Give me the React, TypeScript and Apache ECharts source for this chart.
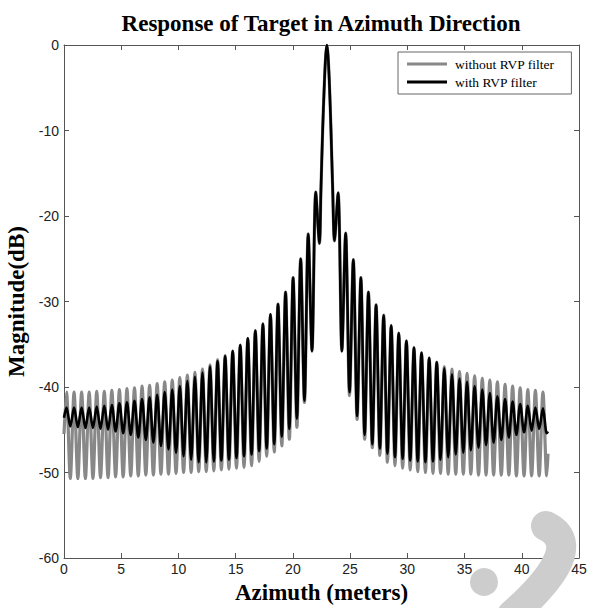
import React, { useEffect, useRef } from "react";
import * as echarts from "echarts";

// Azimuth positions (m) of the lobe peaks and nulls of the point-target response.
const azimuth = [
  0.0, 0.22, 0.55, 0.88, 1.21, 1.54, 1.87, 2.2, 2.53, 2.86, 3.19, 3.52, 3.85, 4.18, 4.51, 4.84, 5.17,
  5.5, 5.83, 6.16, 6.49, 6.82, 7.15, 7.48, 7.81, 8.14, 8.47, 8.8, 9.13, 9.46, 9.79, 10.12, 10.45,
  10.78, 11.11, 11.44, 11.77, 12.1, 12.43, 12.76, 13.09, 13.42, 13.75, 14.08, 14.41, 14.74, 15.07,
  15.4, 15.73, 16.06, 16.39, 16.72, 17.05, 17.38, 17.71, 18.04, 18.37, 18.7, 19.03, 19.36, 19.69,
  20.02, 20.35, 20.68, 21.01, 21.34, 21.67, 22.0, 22.32,
  22.45, 22.6, 22.75, 22.87, 22.97, 23.07, 23.19, 23.33, 23.48, 23.63,
  23.95, 24.28, 24.61, 24.95, 25.28, 25.61, 25.94, 26.27, 26.6, 26.94, 27.27, 27.6, 27.93, 28.26,
  28.59, 28.92, 29.25, 29.59, 29.92, 30.25, 30.58, 30.91, 31.24, 31.58, 31.91, 32.24, 32.57, 32.9,
  33.23, 33.57, 33.9, 34.23, 34.56, 34.89, 35.22, 35.55, 35.88, 36.22, 36.55, 36.88, 37.21, 37.54,
  37.87, 38.21, 38.54, 38.87, 39.2, 39.53, 39.86, 40.2, 40.53, 40.86, 41.19, 41.52, 41.85, 42.18,
  42.29,
];

// Magnitude (dB) without the RVP filter
const withoutRvp = [
  -45.5, -40.6, -50.7, -40.6, -50.7, -40.6, -50.7, -40.6, -50.7, -40.5, -50.6, -40.5, -50.6, -40.4,
  -50.5, -40.3, -50.5, -40.2, -50.4, -40.1, -50.4, -39.9, -50.3, -39.8, -50.3, -39.6, -50.2, -39.4,
  -50.2, -39.2, -50.1, -38.9, -50.0, -38.6, -50.0, -38.3, -49.9, -37.9, -49.9, -37.4, -49.8, -36.8,
  -49.7, -36.3, -49.6, -35.8, -49.5, -35.1, -49.4, -34.3, -49.2, -33.4, -48.7, -32.6, -48.1, -31.5,
  -47.6, -30.3, -46.9, -28.9, -46.1, -27.2, -44.7, -25.0, -41.8, -22.1, -35.8, -17.2, -23.2,
  -17, -10, -4.5, -1.2, 0, -1.2, -4.5, -10, -17, -22.9,
  -17.3, -35.8, -22.0, -41.0, -25.1, -43.8, -27.2, -46.1, -28.9, -47.1, -30.4, -48.0, -31.6, -48.8,
  -32.8, -49.2, -33.7, -49.5, -34.6, -49.7, -35.4, -49.9, -36.0, -50.0, -36.6, -50.1, -37.1, -50.1,
  -37.6, -50.2, -37.9, -50.2, -38.2, -50.2, -38.4, -50.2, -38.7, -50.3, -39.0, -50.3, -39.2, -50.3,
  -39.4, -50.3, -39.7, -50.3, -39.9, -50.4, -40.1, -50.4, -40.3, -50.4, -40.4, -50.4, -40.6, -50.4,
  -47.8,
];

// Magnitude (dB) with the RVP filter
const withRvp = [
  -43.6, -42.4, -44.6, -42.4, -44.7, -42.4, -44.8, -42.4, -44.8, -42.3, -44.9, -42.2, -45.0, -42.1,
  -45.2, -41.9, -45.4, -41.8, -45.6, -41.6, -45.9, -41.4, -46.2, -41.2, -46.5, -40.9, -46.9, -40.6,
  -47.3, -40.3, -47.7, -39.9, -48.1, -39.3, -48.5, -38.8, -48.8, -38.3, -48.8, -37.6, -48.7, -37.0,
  -48.6, -36.4, -48.5, -35.8, -48.3, -35.1, -48.1, -34.3, -47.9, -33.4, -47.5, -32.6, -47.2, -31.5,
  -46.7, -30.3, -45.8, -28.9, -44.9, -27.2, -43.7, -25.0, -41.6, -22.1, -35.8, -17.2, -23.2,
  -17, -10, -4.5, -1.2, 0, -1.2, -4.5, -10, -17, -22.9,
  -17.3, -35.8, -22.0, -40.6, -25.1, -43.4, -27.2, -45.6, -28.9, -46.7, -30.4, -47.2, -31.6, -47.8,
  -32.8, -48.2, -33.7, -48.4, -34.6, -48.6, -35.4, -48.7, -36.0, -48.8, -36.6, -48.7, -37.1, -48.5,
  -37.8, -48.2, -38.5, -47.9, -39.0, -47.7, -39.4, -47.4, -39.9, -47.1, -40.3, -46.8, -40.7, -46.5,
  -41.1, -46.2, -41.4, -45.9, -41.7, -45.6, -42.0, -45.3, -42.2, -45.1, -42.4, -44.9, -42.5, -45.4,
  -45.2,
];

const seriesNames = ["without RVP filter", "with RVP filter"];

const SERIF = '"Liberation Serif", "Times New Roman", serif';
const SANS = '"Liberation Sans", Arial, sans-serif';
const AXIS_COLOR = "#555";
const GRAY = "#888";

export default function App() {
  const ref = useRef<HTMLDivElement>(null);

  useEffect(() => {
    if (!ref.current) return;
    const chart = echarts.init(ref.current, undefined, { renderer: "svg" });

    const boxAxis = {
      axisLine: { show: true, onZero: false, lineStyle: { color: AXIS_COLOR, width: 1 } },
      axisTick: { show: true, inside: true, length: 5, lineStyle: { color: AXIS_COLOR } },
      splitLine: { show: false },
    };

    chart.setOption({
      animation: false,
      backgroundColor: "#fff",
      title: {
        text: "Response of Target in Azimuth Direction",
        left: 316,
        top: 7,
        textAlign: "center",
        textStyle: { fontFamily: SERIF, fontWeight: "bold", fontSize: 23, color: "#000" },
      },
      grid: { left: 64, right: 11, top: 45, bottom: 50, containLabel: false, outerBoundsMode: "none" },
      legend: {
        orient: "vertical",
        left: 398,
        top: 52,
        itemWidth: 40,
        itemHeight: 3,
        itemGap: 4,
        padding: [5, 17, 5, 9],
        borderColor: "#666",
        borderWidth: 1,
        backgroundColor: "#fff",
        data: [
          { name: seriesNames[0], icon: "rect", itemStyle: { color: GRAY } },
          { name: seriesNames[1], icon: "rect", itemStyle: { color: "#000" } },
        ],
        textStyle: { fontFamily: SERIF, fontSize: 13.5, color: "#000", padding: [0, 0, 0, 3] },
      },
      xAxis: [
        {
          type: "value",
          position: "bottom",
          min: 0,
          max: 45,
          interval: 5,
          ...boxAxis,
          axisLabel: { fontFamily: SANS, fontSize: 14, color: "#222", margin: 4 },
          name: "Azimuth (meters)",
          nameLocation: "middle",
          nameGap: 21,
          nameTextStyle: { fontFamily: SERIF, fontWeight: "bold", fontSize: 23, color: "#000" },
        },
        {
          type: "value",
          position: "top",
          min: 0,
          max: 45,
          interval: 5,
          ...boxAxis,
          axisLabel: { show: false },
        },
      ],
      yAxis: [
        {
          type: "value",
          position: "left",
          min: -60,
          max: 0,
          interval: 10,
          ...boxAxis,
          axisLabel: { fontFamily: SANS, fontSize: 14, color: "#222", margin: 5 },
          name: "Magnitude(dB)",
          nameLocation: "middle",
          nameGap: 26,
          nameRotate: 90,
          nameTextStyle: { fontFamily: SERIF, fontWeight: "bold", fontSize: 23, color: "#000" },
        },
        {
          type: "value",
          position: "right",
          min: -60,
          max: 0,
          interval: 10,
          ...boxAxis,
          axisLabel: { show: false },
        },
      ],
      series: [
        {
          name: seriesNames[0],
          type: "line",
          symbol: "none",
          smooth: 0.3,
          data: azimuth.map((x, i) => [x, withoutRvp[i]]),
          lineStyle: { color: GRAY, width: 3.2 },
          itemStyle: { color: GRAY },
          z: 2,
        },
        {
          name: seriesNames[1],
          type: "line",
          symbol: "none",
          smooth: 0.3,
          data: azimuth.map((x, i) => [x, withRvp[i]]),
          lineStyle: { color: "#000", width: 2.6 },
          itemStyle: { color: "#000" },
          z: 3,
        },
      ],
      graphic: [
        {
          type: "circle",
          z: 100,
          shape: { cx: 484, cy: 582, r: 14 },
          style: { fill: "#cdcdcd" },
        },
        {
          type: "bezierCurve",
          z: 100,
          shape: { x1: 546, y1: 526, cpx1: 585, cpy1: 545, cpx2: 540, cpy2: 590, x2: 512, y2: 615 },
          style: { stroke: "#cdcdcd", lineWidth: 30, lineCap: "round", fill: "none" },
        },
      ],
    });

    return () => chart.dispose();
  }, []);

  return (
    <div
      ref={ref}
      style={{ position: "fixed", left: 0, top: 0, width: 590, height: 608 }}
    />
  );
}
